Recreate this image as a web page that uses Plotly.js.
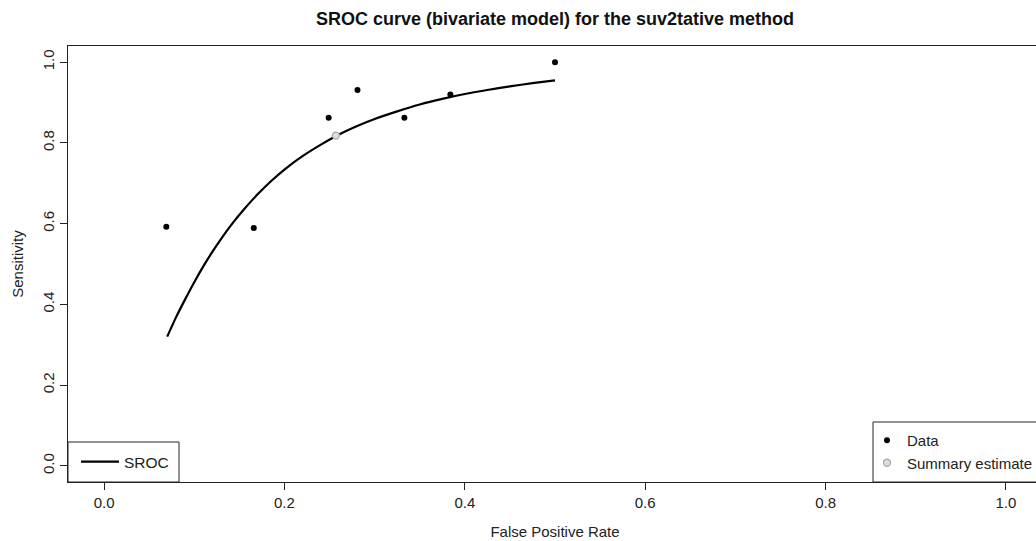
<!DOCTYPE html>
<html>
<head>
<meta charset="utf-8">
<script src="https://cdn.plot.ly/plotly-3.0.1.min.js"></script>
<style>
html,body{margin:0;padding:0;overflow:hidden;background:#fff;}
#chart{width:1050px;height:541px;}
</style>
</head>
<body>
<div id="chart"></div>
<script>
// Study data (false positive rate, sensitivity)
const dataFPR  = [0.069, 0.166, 0.249, 0.281, 0.333, 0.384, 0.500];
const dataSens = [0.592, 0.589, 0.862, 0.931, 0.862, 0.920, 1.000];

// Summary estimate
const summaryFPR  = [0.257];
const summarySens = [0.818];

// SROC curve
const srocFPR  = [0.070, 0.080, 0.090, 0.100, 0.110, 0.120, 0.130, 0.140, 0.155, 0.170, 0.185, 0.200, 0.220, 0.240, 0.260, 0.280, 0.300, 0.325, 0.350, 0.375, 0.400, 0.425, 0.450, 0.475, 0.500];
const srocSens = [0.320, 0.369, 0.413, 0.455, 0.494, 0.530, 0.563, 0.594, 0.635, 0.672, 0.705, 0.734, 0.767, 0.795, 0.820, 0.841, 0.859, 0.878, 0.895, 0.909, 0.921, 0.931, 0.940, 0.948, 0.955];

const tickVals = [0, 0.2, 0.4, 0.6, 0.8, 1.0];
const tickText = ["0.0", "0.2", "0.4", "0.6", "0.8", "1.0"];

const FONT = "Liberation Sans, Arial, Helvetica, sans-serif";
const INK = '#222';

const traces = [
  {
    x: srocFPR, y: srocSens, type: 'scatter', mode: 'lines', name: 'SROC',
    line: {color: '#000', width: 2.2, shape: 'spline', smoothing: 0.6},
    legend: 'legend'
  },
  {
    x: dataFPR, y: dataSens, type: 'scatter', mode: 'markers', name: 'Data',
    marker: {color: '#000', size: 6, symbol: 'circle'},
    legend: 'legend2'
  },
  {
    x: summaryFPR, y: summarySens, type: 'scatter', mode: 'markers', name: 'Summary estimate',
    marker: {color: '#dedede', size: 7, symbol: 'circle', line: {color: '#a8a8a8', width: 1.3}},
    legend: 'legend2'
  }
];

const axisCommon = {
  showgrid: false, zeroline: false,
  showline: true, mirror: true, linecolor: INK, linewidth: 1,
  ticks: 'outside', ticklen: 7, tickcolor: INK, tickwidth: 1,
  tickvals: tickVals, ticktext: tickText,
  tickfont: {family: FONT, size: 15, color: INK}
};

const layout = {
  width: 1050, height: 541,
  margin: {l: 68, r: 8, t: 46, b: 59},
  paper_bgcolor: '#fff', plot_bgcolor: '#fff',
  font: {family: FONT, color: INK},
  title: {
    text: '<b>SROC curve (bivariate model) for the suv2tative method</b>',
    font: {family: FONT, size: 18, color: '#111'},
    x: 0.5, xanchor: 'center', xref: 'paper',
    y: 1 - 19/541, yanchor: 'middle'
  },
  xaxis: Object.assign({}, axisCommon, {
    range: [-0.04, 1.04],
    title: {text: 'False Positive Rate', font: {family: FONT, size: 15, color: INK}, standoff: 16}
  }),
  yaxis: Object.assign({}, axisCommon, {
    range: [-0.04, 1.04],
    tickangle: -90,
    title: {text: 'Sensitivity', font: {family: FONT, size: 15, color: INK}, standoff: 12}
  }),
  shapes: [
    {type: 'rect', xref: 'paper', yref: 'paper', x0: 0, x1: (179-68)/974, y0: 0, y1: (482-442)/436,
     line: {color: INK, width: 1}, fillcolor: '#fff', layer: 'above'},
    {type: 'rect', xref: 'paper', yref: 'paper', x0: (873-68)/974, x1: 1, y0: 0, y1: (482-422)/436,
     line: {color: INK, width: 1}, fillcolor: '#fff', layer: 'above'}
  ],
  showlegend: true,
  legend: {
    x: (76-68)/974, xanchor: 'left', y: (482-462)/436, yanchor: 'middle',
    bgcolor: 'rgba(0,0,0,0)', borderwidth: 0,
    font: {family: FONT, size: 15.5, color: INK},
    itemwidth: 38
  },
  legend2: {
    x: (867-68)/974, xanchor: 'left', y: (482-424)/436, yanchor: 'top',
    bgcolor: 'rgba(0,0,0,0)', borderwidth: 0,
    font: {family: FONT, size: 15, color: INK},
    itemwidth: 30, tracegroupgap: 0
  }
};

Plotly.newPlot('chart', traces, layout, {displayModeBar: false, responsive: false});
</script>
</body>
</html>
